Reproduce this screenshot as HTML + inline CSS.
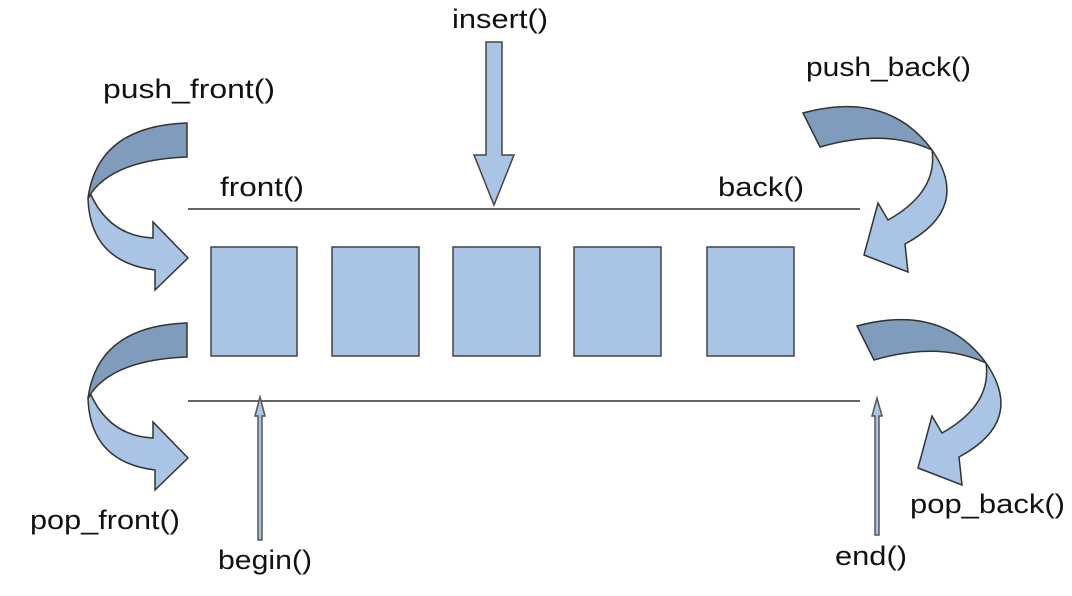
<!DOCTYPE html>
<html><head><meta charset="utf-8"><style>
html,body{margin:0;padding:0;background:#fff;}
svg text{font-family:"Liberation Sans",sans-serif;font-size:27px;fill:#111;}
</style></head><body>
<svg width="1072" height="591" viewBox="0 0 1072 591">
<g stroke="#333" stroke-width="1.5">
<line x1="188" y1="209" x2="860" y2="209"/>
<line x1="188" y1="401" x2="860" y2="401"/>
</g>
<g fill="#a9c4e4" stroke="#444" stroke-width="1.5">
<rect x="211" y="247" width="86" height="109"/>
<rect x="332" y="247" width="87" height="109"/>
<rect x="453" y="247" width="87" height="109"/>
<rect x="574" y="247" width="87" height="109"/>
<rect x="707" y="247" width="87" height="109"/>
</g>
<path d="M486,42 L502,42 L502,155 L514,155 L494,205 L474,155 L486,155 Z" fill="#a9c4e4" stroke="#444" stroke-width="1.5"/>
<g stroke="#333" stroke-width="1.5">
<path d="M88,198 Q90,262 155,270 L155,290 L188,258 L153,222 L153,238 Q110,236 91,195 Z" fill="#a9c4e4"/>
<path d="M187,123 Q98,126 88,198 Q110,160 187,157 Z" fill="#7f9cbc"/>
</g>
<g stroke="#333" stroke-width="1.5" transform="translate(0,200)">
<path d="M88,198 Q90,262 155,270 L155,290 L188,258 L153,222 L153,238 Q110,236 91,195 Z" fill="#a9c4e4"/>
<path d="M187,123 Q98,126 88,198 Q110,160 187,157 Z" fill="#7f9cbc"/>
</g>
<g stroke="#333" stroke-width="1.5">
<path d="M932,150 Q972,208 905,244 L908,272 L864,255 L878,203 L888,220 Q938,192 932,150 Z" fill="#a9c4e4"/>
<path d="M803,113 Q888,90 932,150 Q885,128 820,147 Z" fill="#7f9cbc"/>
</g>
<g stroke="#333" stroke-width="1.5" transform="translate(54,213)">
<path d="M932,150 Q972,208 905,244 L908,272 L864,255 L878,203 L888,220 Q938,192 932,150 Z" fill="#a9c4e4"/>
<path d="M803,113 Q888,90 932,150 Q885,128 820,147 Z" fill="#7f9cbc"/>
</g>
<path d="M258,540 L258,416 L255,416 L260,397 L265,416 L262,416 L262,540 Z" fill="#a9c4e4" stroke="#555" stroke-width="1.5"/>
<path d="M875,535 L875,416 L872,416 L877,398 L882,416 L879,416 L879,535 Z" fill="#a9c4e4" stroke="#555" stroke-width="1.5"/>
<text x="452" y="28" textLength="96" lengthAdjust="spacingAndGlyphs">insert()</text>
<text x="103" y="98" textLength="172" lengthAdjust="spacingAndGlyphs">push_front()</text>
<text x="806" y="76" textLength="165" lengthAdjust="spacingAndGlyphs">push_back()</text>
<text x="220" y="196" textLength="84" lengthAdjust="spacingAndGlyphs">front()</text>
<text x="718" y="196" textLength="86" lengthAdjust="spacingAndGlyphs">back()</text>
<text x="30" y="529" textLength="150" lengthAdjust="spacingAndGlyphs">pop_front()</text>
<text x="910" y="513" textLength="155" lengthAdjust="spacingAndGlyphs">pop_back()</text>
<text x="218" y="569" textLength="94" lengthAdjust="spacingAndGlyphs">begin()</text>
<text x="835" y="565" textLength="72" lengthAdjust="spacingAndGlyphs">end()</text>
</svg>
</body></html>
